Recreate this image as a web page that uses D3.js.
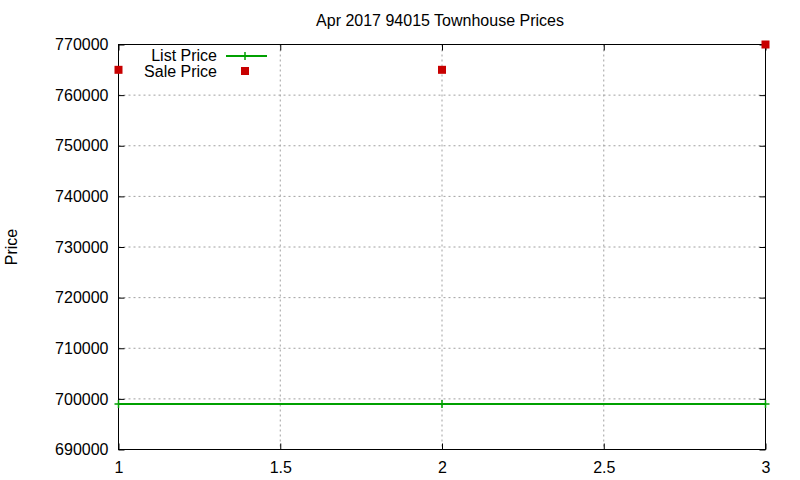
<!DOCTYPE html>
<html>
<head>
<meta charset="utf-8">
<script src="https://cdn.jsdelivr.net/npm/d3@7"></script>
<style>
  body { margin: 0; background: #fff; }
  text { font-family: "Liberation Sans", Arial, sans-serif; fill: #000; }
</style>
</head>
<body>
<svg id="chart" width="800" height="480"></svg>
<script>
// data
var xs = [1, 2, 3];
var listPrice = [699000, 699000, 699000];
var salePrice = [765000, 765000, 770000];
var xTicks = [1, 1.5, 2, 2.5, 3];
var yTicks = [690000, 700000, 710000, 720000, 730000, 740000, 750000, 760000, 770000];

var svg = d3.select('#chart');
var fs = 16;
var pLeft = 118.5, pRight = 765.5, pTop = 44.5, pBottom = 449.5;

var x = d3.scaleLinear().domain([1, 3]).range([pLeft, pRight]);
var y = d3.scaleLinear().domain([690000, 770000]).range([pBottom, pTop]);

// grid
svg.append('g').selectAll('line')
    .data(xTicks.slice(1, -1)).enter().append('line')
    .attr('x1', d => x(d)).attr('x2', d => x(d))
    .attr('y1', pTop).attr('y2', pBottom)
    .attr('stroke', '#a0a0a0').attr('stroke-width', 1).attr('stroke-dasharray', '2,3');
svg.append('g').selectAll('line')
    .data(yTicks.slice(1, -1)).enter().append('line')
    .attr('x1', pLeft).attr('x2', pRight)
    .attr('y1', d => y(d)).attr('y2', d => y(d))
    .attr('stroke', '#a0a0a0').attr('stroke-width', 1).attr('stroke-dasharray', '2,3');

// axes (gnuplot style: ticks pointing inward, mirrored)
var yAxis = d3.axisLeft(y).tickValues(yTicks).tickFormat(d3.format('d')).tickSizeInner(-6).tickSizeOuter(0).tickPadding(10);
var yAxisR = d3.axisRight(y).tickValues(yTicks).tickFormat('').tickSizeInner(-6).tickSizeOuter(0);
var xAxis = d3.axisBottom(x).tickValues(xTicks).tickFormat(d3.format('')).tickSizeInner(-6).tickSizeOuter(0).tickPadding(12);
var xAxisT = d3.axisTop(x).tickValues(xTicks).tickFormat('').tickSizeInner(-6).tickSizeOuter(0);

function styleAxis(g) {
    g.select('.domain').remove();
    g.selectAll('line').attr('stroke', '#000');
    g.selectAll('text').attr('font-size', fs).attr('font-family', '"Liberation Sans", Arial, sans-serif');
}
svg.append('g').attr('transform', 'translate(' + pLeft + ',0)').call(yAxis).call(styleAxis);
svg.append('g').attr('transform', 'translate(' + pRight + ',0)').call(yAxisR).call(styleAxis);
svg.append('g').attr('transform', 'translate(0,' + pBottom + ')').call(xAxis).call(styleAxis);
svg.append('g').attr('transform', 'translate(0,' + pTop + ')').call(xAxisT).call(styleAxis);

// border
svg.append('rect').attr('x', pLeft).attr('y', pTop)
    .attr('width', pRight - pLeft).attr('height', pBottom - pTop)
    .attr('fill', 'none').attr('stroke', '#000').attr('stroke-width', 1);

// list price line
var line = d3.line().x((d, i) => x(xs[i])).y(d => y(d));
svg.append('path').datum(listPrice).attr('d', line)
    .attr('fill', 'none').attr('stroke', '#00a000').attr('stroke-width', 2);
svg.append('g').selectAll('path').data(listPrice).enter().append('path')
    .attr('d', (d, i) => 'M' + (x(xs[i]) - 4) + ',' + y(d) + 'h8M' + x(xs[i]) + ',' + (y(d) - 4) + 'v8')
    .attr('stroke', '#00a000').attr('stroke-width', 1.5);

// sale price points
svg.append('g').selectAll('rect').data(salePrice).enter().append('rect')
    .attr('x', (d, i) => x(xs[i]) - 4).attr('y', d => y(d) - 4)
    .attr('width', 8).attr('height', 8).attr('fill', '#c80000');

// title and label
svg.append('text').attr('x', 440).attr('y', 26).attr('text-anchor', 'middle')
    .attr('font-size', fs).text('Apr 2017 94015 Townhouse Prices');
svg.append('text').attr('transform', 'translate(17,247) rotate(-90)')
    .attr('text-anchor', 'middle').attr('font-size', fs).text('Price');

// legend
var leg = svg.append('g');
leg.append('text').attr('x', 217).attr('y', 61).attr('text-anchor', 'end').attr('font-size', fs).text('List Price');
leg.append('line').attr('x1', 226).attr('x2', 267).attr('y1', 56).attr('y2', 56)
    .attr('stroke', '#00a000').attr('stroke-width', 2);
leg.append('path').attr('d', 'M241,56h8M245,52v8').attr('stroke', '#00a000').attr('stroke-width', 1.5);
leg.append('text').attr('x', 217).attr('y', 77).attr('text-anchor', 'end').attr('font-size', fs).text('Sale Price');
leg.append('rect').attr('x', 241).attr('y', 67).attr('width', 8).attr('height', 8).attr('fill', '#c80000');
</script>
</body>
</html>
